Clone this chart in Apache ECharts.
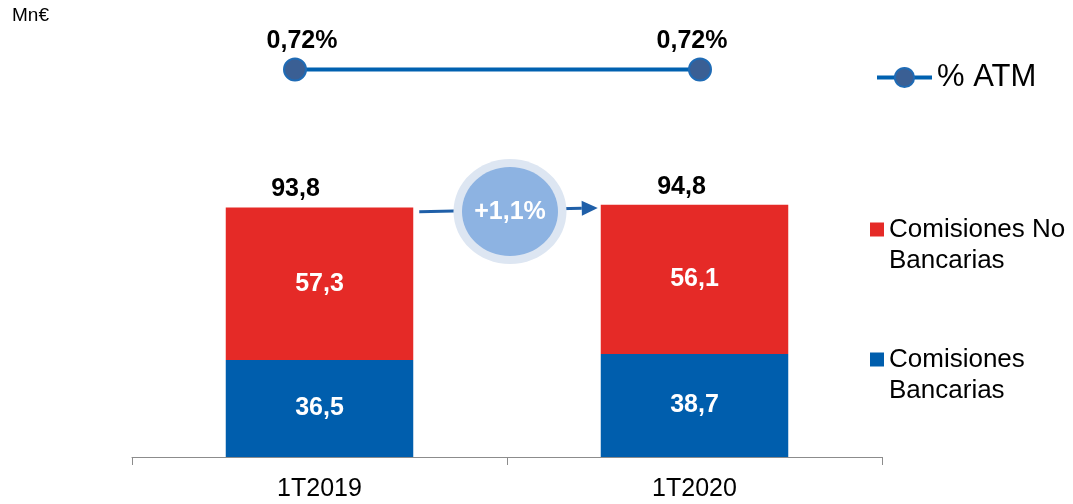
<!DOCTYPE html>
<html>
<head>
<meta charset="utf-8">
<script src="https://cdn.jsdelivr.net/npm/echarts@6/dist/echarts.min.js"></script>
<style>
  html, body { margin: 0; padding: 0; background: #fff; }
  #chart { width: 1073px; height: 504px; }
</style>
</head>
<body>
<div id="chart"></div>
<script>
// datos
const categories = ["1T2019", "1T2020"];
const bancarias = [36.5, 38.7];
const noBancarias = [57.3, 56.1];
const totals = [93.8, 94.8];
const atm = [0.72, 0.72];
const growthLabel = "+1,1%";
// flecha y burbuja (valores del eje y)
const arrowY = [92.2, 93.6];
const bubbleY = 92.3;

// desplazamientos de etiquetas (estilo)
const totalShift = [-24, -13];
const atmShift = [7, -8];

const FONT = "'Liberation Sans', Arial, sans-serif";
const RED = "#E52A27";
const BLUE = "#005EAD";

function fmt(v, d) {
  return v.toFixed(d).replace(".", ",");
}

// la primera línea vacía deja el icono a la altura de la primera línea de texto
function twoLines(name) {
  return "\n" + name.replace(" Bancarias", "\nBancarias");
}

const chart = echarts.init(document.getElementById("chart"));

const option = {
  animation: false,
  textStyle: { fontFamily: FONT },
  title: {
    text: "Mn€",
    left: 12,
    top: 6,
    padding: 0,
    textStyle: { fontSize: 19, fontWeight: "normal", color: "#000", fontFamily: FONT }
  },
  legend: [
    {
      data: ["% ATM"],
      left: 875,
      top: 62,
      padding: 0,
      itemWidth: 55,
      itemHeight: 24,
      itemGap: 5,
      selectedMode: false,
      lineStyle: { width: 4 },
      textStyle: { fontSize: 31, color: "#000", fontFamily: FONT }
    },
    {
      data: [{ name: "Comisiones No Bancarias", icon: "rect" }],
      left: 870,
      top: 183,
      padding: 0,
      itemWidth: 14,
      itemHeight: 14,
      selectedMode: false,
      formatter: twoLines,
      textStyle: { fontSize: 26, lineHeight: 31, color: "#000", fontFamily: FONT }
    },
    {
      data: [{ name: "Comisiones Bancarias", icon: "rect" }],
      left: 870,
      top: 313,
      padding: 0,
      itemWidth: 14,
      itemHeight: 14,
      selectedMode: false,
      formatter: twoLines,
      textStyle: { fontSize: 26, lineHeight: 31, color: "#000", fontFamily: FONT }
    }
  ],
  grid: [
    { left: 132, right: 191, top: 58, bottom: 47 },
    { left: 92.5, right: 170.5, top: 0, height: 139 }
  ],
  xAxis: [
    {
      type: "category",
      gridIndex: 0,
      data: categories,
      axisLine: { lineStyle: { color: "#8C8C8C", width: 1 } },
      axisTick: { show: true, length: 8, lineStyle: { color: "#8C8C8C" } },
      axisLabel: { fontSize: 25, color: "#000", margin: 20, fontFamily: FONT }
    },
    {
      type: "category",
      gridIndex: 1,
      data: categories,
      show: false
    }
  ],
  yAxis: [
    { type: "value", gridIndex: 0, min: 0, max: 150, show: false },
    { type: "value", gridIndex: 1, min: 0, max: 1.44, show: false }
  ],
  series: [
    {
      name: "Comisiones Bancarias",
      type: "bar",
      stack: "total",
      barWidth: "50%",
      xAxisIndex: 0,
      yAxisIndex: 0,
      itemStyle: { color: BLUE },
      label: {
        show: true,
        position: "inside",
        color: "#fff",
        fontSize: 25,
        fontWeight: "bold",
        formatter: p => fmt(p.value, 1)
      },
      data: bancarias
    },
    {
      name: "Comisiones No Bancarias",
      type: "bar",
      stack: "total",
      barWidth: "50%",
      xAxisIndex: 0,
      yAxisIndex: 0,
      itemStyle: { color: RED },
      label: {
        show: true,
        position: "inside",
        color: "#fff",
        fontSize: 25,
        fontWeight: "bold",
        formatter: p => fmt(p.value, 1)
      },
      data: noBancarias
    },
    {
      name: "Total",
      type: "scatter",
      xAxisIndex: 0,
      yAxisIndex: 0,
      symbolSize: 1,
      itemStyle: { color: "rgba(0,0,0,0)", opacity: 1 },
      label: {
        show: true,
        position: "top",
        distance: 5,
        color: "#000",
        fontSize: 25,
        fontWeight: "bold",
        formatter: p => fmt(p.value, 1)
      },
      data: totals.map((v, i) => ({ value: v, label: { offset: [totalShift[i], 0] } }))
    },
    {
      name: "% ATM",
      type: "line",
      xAxisIndex: 1,
      yAxisIndex: 1,
      symbol: "circle",
      symbolSize: 22,
      lineStyle: { color: "#0061B0", width: 4 },
      itemStyle: { color: "#3A5F94", borderColor: "#1F6BB5", borderWidth: 2 },
      label: {
        show: true,
        position: "top",
        distance: 4,
        color: "#000",
        fontSize: 25,
        fontWeight: "bold",
        formatter: p => fmt(p.value, 2) + "%"
      },
      data: atm.map((v, i) => ({ value: v, label: { offset: [atmShift[i], 0] } }))
    }
  ]
};

chart.setOption(option);

// flecha de crecimiento y burbuja
const p0 = chart.convertToPixel({ gridIndex: 0 }, [0, arrowY[0]]);
const p1 = chart.convertToPixel({ gridIndex: 0 }, [1, arrowY[1]]);
const band = p1[0] - p0[0];
const sx = p0[0] + band * 0.25 + 6;
const ex = p1[0] - band * 0.25 - 3;
const sy = p0[1];
const ey = p1[1];
const len = Math.hypot(ex - sx, ey - sy);
const ux = (ex - sx) / len;
const uy = (ey - sy) / len;
const headL = 16;
const headW = 7.5;
const bx = ex - ux * headL;
const by = ey - uy * headL;
const bc = chart.convertToPixel({ gridIndex: 0 }, [0, bubbleY]);
const cx = (p0[0] + p1[0]) / 2 + 3;
const cy = bc[1];

chart.setOption({
  graphic: [
    {
      type: "line",
      z: 10,
      shape: { x1: sx, y1: sy, x2: bx, y2: by },
      style: { stroke: "#1F5FA8", lineWidth: 3 }
    },
    {
      type: "polygon",
      z: 10,
      shape: {
        points: [
          [ex, ey],
          [bx - uy * headW, by + ux * headW],
          [bx + uy * headW, by - ux * headW]
        ]
      },
      style: { fill: "#1F5FA8" }
    },
    {
      type: "ellipse",
      z: 11,
      shape: { cx: cx, cy: cy, rx: 56.5, ry: 52.5 },
      style: { fill: "#DDE6F2" }
    },
    {
      type: "ellipse",
      z: 12,
      shape: { cx: cx, cy: cy, rx: 48, ry: 44.5 },
      style: { fill: "#8DB3E2" }
    },
    {
      type: "text",
      z: 13,
      x: cx,
      y: cy + 1,
      style: {
        text: growthLabel,
        fill: "#fff",
        font: "bold 25px " + FONT,
        align: "center",
        verticalAlign: "middle"
      }
    }
  ]
});
</script>
</body>
</html>
